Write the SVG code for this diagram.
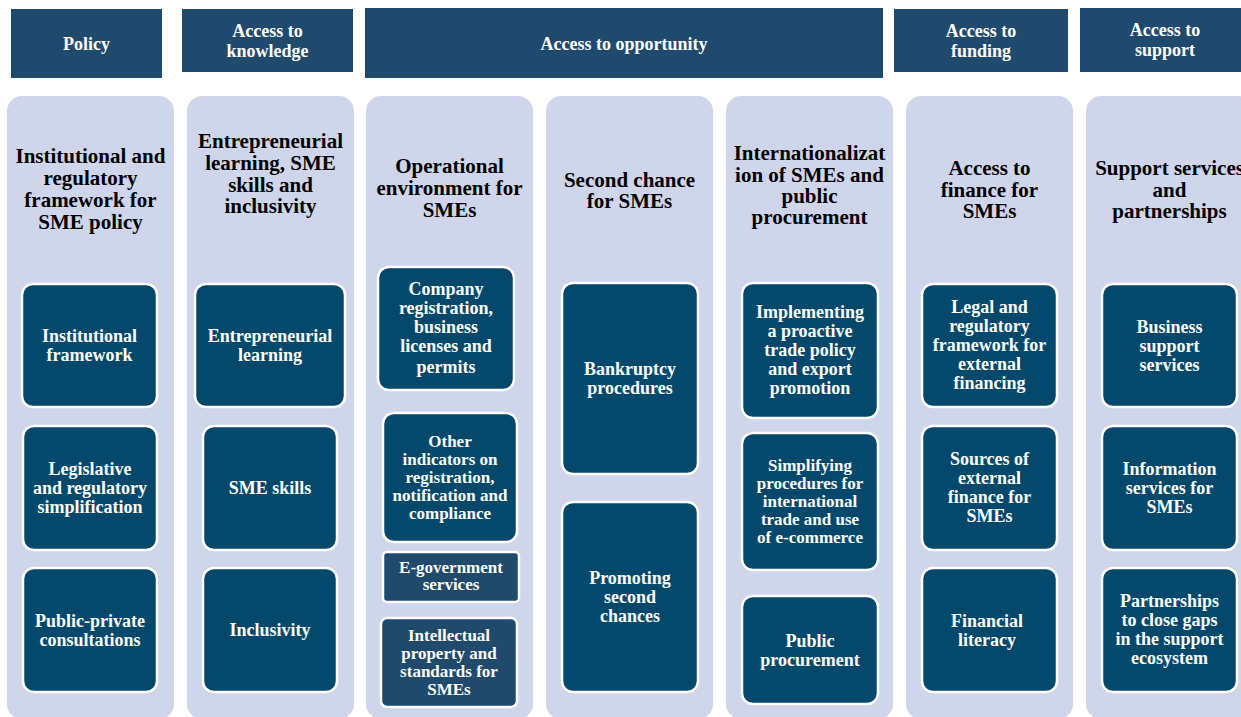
<svg xmlns="http://www.w3.org/2000/svg" width="1241" height="717" viewBox="0 0 1241 717">
  <style>
    .hdr { fill: #1f4a6e; }
    .hdr-t { fill: #ffffff; font-family: "Liberation Serif", "Times New Roman", serif; font-weight: bold; font-size: 18px; text-anchor: middle; }
    .panel { fill: #cfd5ea; }
    .title { fill: #000000; font-family: "Liberation Serif", "Times New Roman", serif; font-weight: bold; font-size: 21px; text-anchor: middle; }
    .box { fill: #04496c; stroke: #ffffff; stroke-width: 2.5; }
    .box2 { fill: #1f4a6c; stroke: #ffffff; stroke-width: 2.5; }
    .bt { fill: #ffffff; font-family: "Liberation Serif", "Times New Roman", serif; font-weight: bold; font-size: 18px; text-anchor: middle; }
    .bs { font-size: 17px; }
  </style>
  <rect width="1241" height="717" fill="#ffffff"/>

  <!-- Pillar headers -->
  <g id="hdr-policy">
    <rect class="hdr" x="11" y="9" width="151" height="69"/>
    <text class="hdr-t" x="86.5" y="50">Policy</text>
  </g>
  <g id="hdr-knowledge">
    <rect class="hdr" x="182" y="9" width="171" height="63"/>
    <text class="hdr-t" x="267.5" y="37">Access to<tspan x="267.5" y="57">knowledge</tspan></text>
  </g>
  <g id="hdr-opportunity">
    <rect class="hdr" x="365" y="8" width="518" height="70"/>
    <text class="hdr-t" x="624" y="50">Access to opportunity</text>
  </g>
  <g id="hdr-funding">
    <rect class="hdr" x="894" y="9" width="174" height="63"/>
    <text class="hdr-t" x="981" y="37">Access to<tspan x="981" y="57">funding</tspan></text>
  </g>
  <g id="hdr-support">
    <rect class="hdr" x="1080" y="8" width="170" height="64"/>
    <text class="hdr-t" x="1165" y="36">Access to<tspan x="1165" y="56">support</tspan></text>
  </g>

  <!-- Column panels with titles -->
  <g id="col-policy">
    <rect class="panel" x="7" y="96" width="167" height="623" rx="15"/>
    <text class="title" x="90.5" y="163">Institutional and<tspan x="90.5" y="185">regulatory</tspan><tspan x="90.5" y="207">framework for</tspan><tspan x="90.5" y="229">SME policy</tspan></text>
  </g>
  <g id="col-knowledge">
    <rect class="panel" x="187" y="96" width="167" height="623" rx="15"/>
    <text class="title" x="270.5" y="148">Entrepreneurial<tspan x="270.5" y="170">learning, SME</tspan><tspan x="270.5" y="192">skills and</tspan><tspan x="270.5" y="213">inclusivity</tspan></text>
  </g>
  <g id="col-operational">
    <rect class="panel" x="366" y="96" width="167" height="623" rx="15"/>
    <text class="title" x="449.5" y="173">Operational<tspan x="449.5" y="195">environment for</tspan><tspan x="449.5" y="217">SMEs</tspan></text>
  </g>
  <g id="col-second-chance">
    <rect class="panel" x="546" y="96" width="167" height="623" rx="15"/>
    <text class="title" x="629.5" y="187">Second chance<tspan x="629.5" y="208">for SMEs</tspan></text>
  </g>
  <g id="col-internationalization">
    <rect class="panel" x="726" y="96" width="167" height="623" rx="15"/>
    <text class="title" x="809.5" y="160">Internationalizat<tspan x="809.5" y="182">ion of SMEs and</tspan><tspan x="809.5" y="203">public</tspan><tspan x="809.5" y="224">procurement</tspan></text>
  </g>
  <g id="col-finance">
    <rect class="panel" x="906" y="96" width="167" height="623" rx="15"/>
    <text class="title" x="989.5" y="175">Access to<tspan x="989.5" y="197">finance for</tspan><tspan x="989.5" y="218">SMEs</tspan></text>
  </g>
  <g id="col-support">
    <rect class="panel" x="1086" y="96" width="167" height="623" rx="15"/>
    <text class="title" x="1169.5" y="175">Support services<tspan x="1169.5" y="197">and</tspan><tspan x="1169.5" y="218">partnerships</tspan></text>
  </g>

  <!-- Policy column items -->
  <g id="n-institutional-framework">
    <rect class="box" x="22" y="284" width="135" height="123" rx="11"/>
    <text class="bt" x="89.5" y="342">Institutional<tspan x="89.5" y="361">framework</tspan></text>
  </g>
  <g id="n-legislative">
    <rect class="box" x="23" y="426" width="134" height="124" rx="11"/>
    <text class="bt" x="90" y="475">Legislative<tspan x="90" y="494">and regulatory</tspan><tspan x="90" y="513">simplification</tspan></text>
  </g>
  <g id="n-ppc">
    <rect class="box" x="23" y="568" width="134" height="124" rx="11"/>
    <text class="bt" x="90" y="627">Public-private<tspan x="90" y="646">consultations</tspan></text>
  </g>

  <!-- Knowledge column items -->
  <g id="n-entrepreneurial-learning">
    <rect class="box" x="195" y="284" width="150" height="123" rx="11"/>
    <text class="bt" x="270" y="342">Entrepreneurial<tspan x="270" y="361">learning</tspan></text>
  </g>
  <g id="n-sme-skills">
    <rect class="box" x="203" y="426" width="134" height="124" rx="11"/>
    <text class="bt" x="270" y="494">SME skills</text>
  </g>
  <g id="n-inclusivity">
    <rect class="box" x="203" y="568" width="134" height="124" rx="11"/>
    <text class="bt" x="270" y="636">Inclusivity</text>
  </g>

  <!-- Operational environment items -->
  <g id="n-company-registration">
    <rect class="box" x="378" y="267" width="136" height="123" rx="11"/>
    <text class="bt" x="446" y="295">Company<tspan x="446" y="314">registration,</tspan><tspan x="446" y="333">business</tspan><tspan x="446" y="352">licenses and</tspan><tspan x="446" y="373">permits</tspan></text>
  </g>
  <g id="n-other-indicators">
    <rect class="box" x="383" y="413" width="134" height="129" rx="11"/>
    <text class="bt bs" x="450" y="447">Other<tspan x="450" y="465">indicators on</tspan><tspan x="450" y="483">registration,</tspan><tspan x="450" y="501">notification and</tspan><tspan x="450" y="519">compliance</tspan></text>
  </g>
  <g id="n-egovernment">
    <rect class="box2" x="383" y="552" width="136" height="50" rx="4"/>
    <text class="bt bs" x="451" y="573">E-government<tspan x="451" y="590">services</tspan></text>
  </g>
  <g id="n-ip-standards">
    <rect class="box2" x="381" y="618" width="136" height="89" rx="6"/>
    <text class="bt bs" x="449" y="641">Intellectual<tspan x="449" y="659">property and</tspan><tspan x="449" y="677">standards for</tspan><tspan x="449" y="695">SMEs</tspan></text>
  </g>

  <!-- Second chance items -->
  <g id="n-bankruptcy">
    <rect class="box" x="562" y="283" width="136" height="191" rx="11"/>
    <text class="bt" x="630" y="375">Bankruptcy<tspan x="630" y="394">procedures</tspan></text>
  </g>
  <g id="n-promoting">
    <rect class="box" x="562" y="502" width="136" height="190" rx="11"/>
    <text class="bt" x="630" y="584">Promoting<tspan x="630" y="603">second</tspan><tspan x="630" y="622">chances</tspan></text>
  </g>

  <!-- Internationalization items -->
  <g id="n-trade-policy">
    <rect class="box" x="742" y="283" width="136" height="135" rx="11"/>
    <text class="bt" x="810" y="318">Implementing<tspan x="810" y="337">a proactive</tspan><tspan x="810" y="356">trade policy</tspan><tspan x="810" y="375">and export</tspan><tspan x="810" y="394">promotion</tspan></text>
  </g>
  <g id="n-simplifying">
    <rect class="box" x="742" y="433" width="136" height="137" rx="11"/>
    <text class="bt bs" x="810" y="471">Simplifying<tspan x="810" y="489">procedures for</tspan><tspan x="810" y="507">international</tspan><tspan x="810" y="525">trade and use</tspan><tspan x="810" y="543">of e-commerce</tspan></text>
  </g>
  <g id="n-public-procurement">
    <rect class="box" x="742" y="596" width="136" height="108" rx="11"/>
    <text class="bt" x="810" y="647">Public<tspan x="810" y="666">procurement</tspan></text>
  </g>

  <!-- Finance items -->
  <g id="n-legal-framework">
    <rect class="box" x="922" y="284" width="135" height="123" rx="11"/>
    <text class="bt" x="989.5" y="313">Legal and<tspan x="989.5" y="332">regulatory</tspan><tspan x="989.5" y="351">framework for</tspan><tspan x="989.5" y="370">external</tspan><tspan x="989.5" y="389">financing</tspan></text>
  </g>
  <g id="n-sources">
    <rect class="box" x="922" y="426" width="135" height="124" rx="11"/>
    <text class="bt" x="989.5" y="465">Sources of<tspan x="989.5" y="484">external</tspan><tspan x="989.5" y="503">finance for</tspan><tspan x="989.5" y="522">SMEs</tspan></text>
  </g>
  <g id="n-financial-literacy">
    <rect class="box" x="922" y="568" width="135" height="124" rx="11"/>
    <text class="bt" x="987" y="627">Financial<tspan x="987" y="646">literacy</tspan></text>
  </g>

  <!-- Support items -->
  <g id="n-business-support">
    <rect class="box" x="1102" y="284" width="135" height="123" rx="11"/>
    <text class="bt" x="1169.5" y="333">Business<tspan x="1169.5" y="352">support</tspan><tspan x="1169.5" y="371">services</tspan></text>
  </g>
  <g id="n-information">
    <rect class="box" x="1102" y="426" width="135" height="124" rx="11"/>
    <text class="bt" x="1169.5" y="475">Information<tspan x="1169.5" y="494">services for</tspan><tspan x="1169.5" y="513">SMEs</tspan></text>
  </g>
  <g id="n-partnerships">
    <rect class="box" x="1102" y="568" width="135" height="124" rx="11"/>
    <text class="bt" x="1169.5" y="607">Partnerships<tspan x="1169.5" y="626">to close gaps</tspan><tspan x="1169.5" y="645">in the support</tspan><tspan x="1169.5" y="664">ecosystem</tspan></text>
  </g>

  <!-- No connectors in this layout -->
  <g id="connectors"/>
</svg>
